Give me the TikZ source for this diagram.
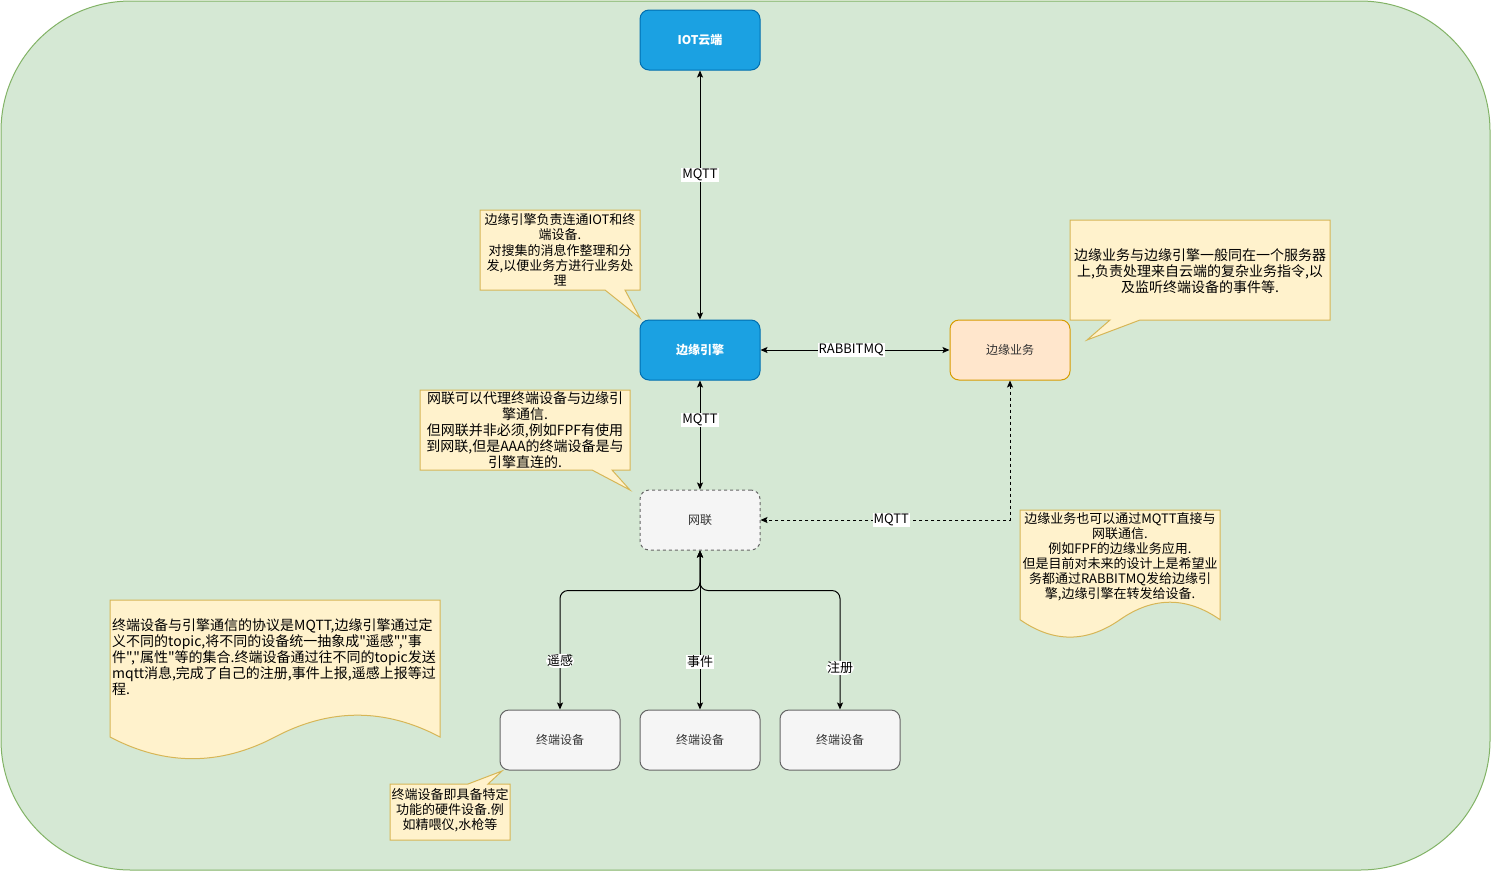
\documentclass[tikz,border=0pt]{standalone}
\usepackage{fontspec}
\setmainfont{Noto Sans CJK SC}
% same family without the TeX input mapping, so that " stays a straight quote
\newfontfamily\plaincjk{Noto Sans CJK SC}
\usetikzlibrary{arrows.meta}

\definecolor{bgfill}{HTML}{D5E8D4}
\definecolor{bgline}{HTML}{82B366}
\definecolor{bluefill}{HTML}{1BA1E2}
\definecolor{blueline}{HTML}{006EAF}
\definecolor{orfill}{HTML}{FFE6CC}
\definecolor{orline}{HTML}{D79B00}
\definecolor{grfill}{HTML}{F5F5F5}
\definecolor{grline}{HTML}{666666}
\definecolor{grtext}{HTML}{333333}
\definecolor{notefill}{HTML}{FFF2CC}
\definecolor{noteline}{HTML}{D6B656}

\newcommand{\fsz}[2]{\fontsize{#1pt}{#2pt}\selectfont}

\tikzset{
  box/.style={rounded corners=9pt, minimum width=120pt, minimum height=60pt,
    line width=1pt, inner sep=0pt, font=\fsz{12}{14}},
  bluebox/.style={box, fill=bluefill, draw=blueline, text=white, font=\fsz{12}{14}\bfseries},
  orbox/.style={box, fill=orfill, draw=orline, text=grtext},
  greybox/.style={box, fill=grfill, draw=grline, text=grtext},
  netbox/.style={greybox, dash pattern=on 3pt off 3pt},
  tip/.tip={Stealth[length=7pt,width=6pt,inset=1.5pt]},
  link/.style={line width=1pt, draw=black, tip-tip},
  lbl/.style={fill=white, inner sep=1pt, font=\fsz{13}{15}, text=black},
  note/.style={fill=notefill, draw=noteline, line width=1pt, line join=miter},
  notetext/.style={inner sep=0pt, align=center, text=black}
}

\begin{document}
\begin{tikzpicture}[x=1pt,y=-1pt]
\useasboundingbox (0,0) rectangle (1491,871);

% container
\draw[fill=bgfill, draw=bgline, line width=1pt, rounded corners=130pt]
  (1,1) rectangle (1490,870);

% main nodes
\node[bluebox] (iot) at (700,40) {IOT云端};
\node[bluebox] (engine) at (700,350) {边缘引擎};
\node[orbox] (biz) at (1010,350) {边缘业务};
\node[netbox] (net) at (700,520) {网联};
\node[greybox] (dev1) at (560,740) {终端设备};
\node[greybox] (dev2) at (700,740) {终端设备};
\node[greybox] (dev3) at (840,740) {终端设备};

% connectors
\draw[link] (iot) -- node[lbl, pos=0.42] {MQTT} (engine);
\draw[link] (engine) -- node[lbl, pos=0.48] {RABBITMQ} (biz);
\draw[link] (engine) -- node[lbl, pos=0.36] {MQTT} (net);
\draw[link, dash pattern=on 3pt off 3pt] (biz.south) |- node[lbl, pos=0.738] {MQTT} (net.east);
\draw[link, rounded corners=8pt] (net.south) -- ++(0,40) -| node[lbl, pos=0.796] {遥感} (dev1.north);
\draw[link] (net.south) -- node[lbl, pos=0.7] {事件} (dev2.north);
\draw[link, rounded corners=8pt] (net.south) -- ++(0,40) -| node[lbl, pos=0.825] {注册} (dev3.north);

% callout: engine
\draw[note] (480,210) -- (640,210) -- (640,290) -- (625,290) -- (640,318)
  -- (605,290) -- (480,290) -- cycle;
\node[notetext, font=\fsz{13}{15.25}] (noteEngine) at (560,250)
  {边缘引擎负责连通IOT和终\\端设备.\\对搜集的消息作整理和分\\发,以便业务方进行业务处\\理};

% callout: business
\draw[note] (1070,220) -- (1330,220) -- (1330,320) -- (1140,320) -- (1087,340)
  -- (1110,320) -- (1070,320) -- cycle;
\node[notetext, font=\fsz{14}{16}] (noteBiz) at (1200,271)
  {边缘业务与边缘引擎一般同在一个服务器\\上,负责处理来自云端的复杂业务指令,以\\及监听终端设备的事件等.};

% callout: gateway
\draw[note] (420,390) -- (630,390) -- (630,470) -- (612,470) -- (630,490)
  -- (592,470) -- (420,470) -- cycle;
\node[notetext, font=\fsz{14}{16}] (noteNet) at (525,430)
  {网联可以代理终端设备与边缘引\\擎通信.\\但网联并非必须,例如FPF有使用\\到网联,但是AAA的终端设备是与\\引擎直连的.};

% document: direct MQTT
\draw[note] (1020,510) -- (1220,510) -- (1220,619.65)
  .. controls (1186.7,596.4) and (1153.3,596.4) .. (1120,619.65)
  .. controls (1086.7,642.9) and (1053.3,642.9) .. (1020,619.65) -- cycle;
\node[notetext, font=\fsz{13}{15}] (noteMqtt) at (1120,556.5)
  {边缘业务也可以通过MQTT直接与\\网联通信.\\例如FPF的边缘业务应用.\\但是目前对未来的设计上是希望业\\务都通过RABBITMQ发给边缘引\\擎,边缘引擎在转发给设备.};

% document: protocol
\draw[note] (110,600) -- (440,600) -- (440,737)
  .. controls (385,707.9) and (330,707.9) .. (275,737)
  .. controls (220,765.9) and (165,765.9) .. (110,737) -- cycle;
\node[notetext, align=left, anchor=west, font=\plaincjk\fsz{14}{16}] (noteProto) at (112,657)
  {终端设备与引擎通信的协议是MQTT,边缘引擎通过定\\义不同的topic,将不同的设备统一抽象成"遥感","事\\件","属性"等的集合.终端设备通过往不同的topic发送\\mqtt消息,完成了自己的注册,事件上报,遥感上报等过\\程.};

% callout: devices
\draw[note] (390,784) -- (468,784) -- (502,771) -- (488,784) -- (510,784)
  -- (510,840) -- (390,840) -- cycle;
\node[notetext, font=\fsz{13}{15}] (noteDev) at (450,810)
  {终端设备即具备特定\\功能的硬件设备.例\\如精喂仪,水枪等};

\end{tikzpicture}
\end{document}
